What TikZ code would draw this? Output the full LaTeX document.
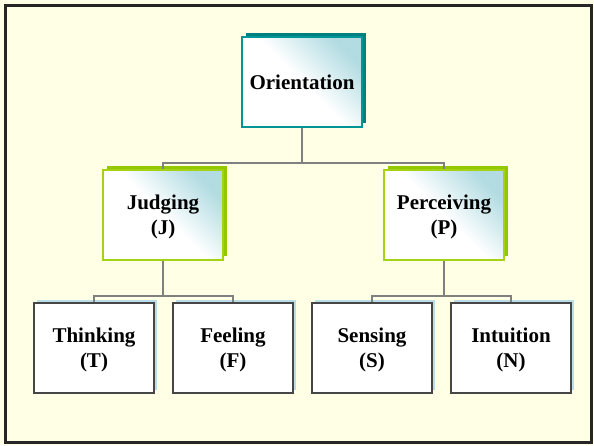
\documentclass[tikz,border=0pt]{standalone}
\usepackage{fontspec}
\setmainfont{Liberation Serif}
\usepackage{xcolor}
\usepackage{tikz}
\usetikzlibrary{positioning, shadows}

\definecolor{paper}{RGB}{255,255,230}
\definecolor{tealedge}{RGB}{0,150,150}
\definecolor{tealshade}{RGB}{0,128,128}
\definecolor{limeedge}{RGB}{165,210,20}
\definecolor{limeshade}{RGB}{145,200,0}
\definecolor{icefill}{RGB}{178,220,226}
\definecolor{iceshade}{RGB}{185,222,232}
\definecolor{leafedge}{RGB}{70,70,70}
\definecolor{linkgray}{RGB}{128,128,128}

\begin{document}
\begin{tikzpicture}[
    x=1pt, y=-1pt,
    node distance=17.5pt,
    box/.style={rectangle, minimum width=120pt, minimum height=90pt, align=center, text depth=0pt, font=\fontsize{21}{25}\selectfont\bfseries, line width=1.5pt},
    headbox/.style={box, draw=tealedge, top color=icefill, bottom color=white, middle color=white, shading angle=-45, drop shadow={shadow xshift=4pt, shadow yshift=4pt, fill=tealshade, opacity=1}},
    midbox/.style={box, draw=limeedge, top color=icefill, bottom color=white, middle color=white, shading angle=-45, drop shadow={shadow xshift=4pt, shadow yshift=4pt, fill=limeshade, opacity=1}},
    leafbox/.style={box, draw=leafedge, fill=white, drop shadow={shadow xshift=3pt, shadow yshift=3pt, fill=iceshade, opacity=1}},
    link/.style={draw=linkgray, line width=1.6pt}
]
\useasboundingbox (0,0) rectangle (594,445);
\fill[paper] (0,0) rectangle (594,445);
\draw[line width=2.5pt, black!85] (5.5,5.5) rectangle (591.5,442.5);

\node[headbox] (orient) at (302,82) {Orientation};
\node[midbox] (judge) at (163,215) {Judging\\(J)};
\node[midbox] (perceive) at (444,215) {Perceiving\\(P)};
\node[leafbox] (think) at (94,348) {Thinking\\(T)};
\node[leafbox, right=of think] (feel) {Feeling\\(F)};
\node[leafbox, right=of feel] (sense) {Sensing\\(S)};
\node[leafbox, right=of sense] (intuit) {Intuition\\(N)};

\draw[link] (orient.south) -- ++(0,35) -| (judge.north);
\draw[link] (orient.south) ++(0,35) -| (perceive.north);
\draw[link] (judge.south) -- ++(0,35) -| (think.north);
\draw[link] (judge.south) ++(0,35) -| (feel.north);
\draw[link] (perceive.south) -- ++(0,35) -| (sense.north);
\draw[link] (perceive.south) ++(0,35) -| (intuit.north);
\end{tikzpicture}
\end{document}
